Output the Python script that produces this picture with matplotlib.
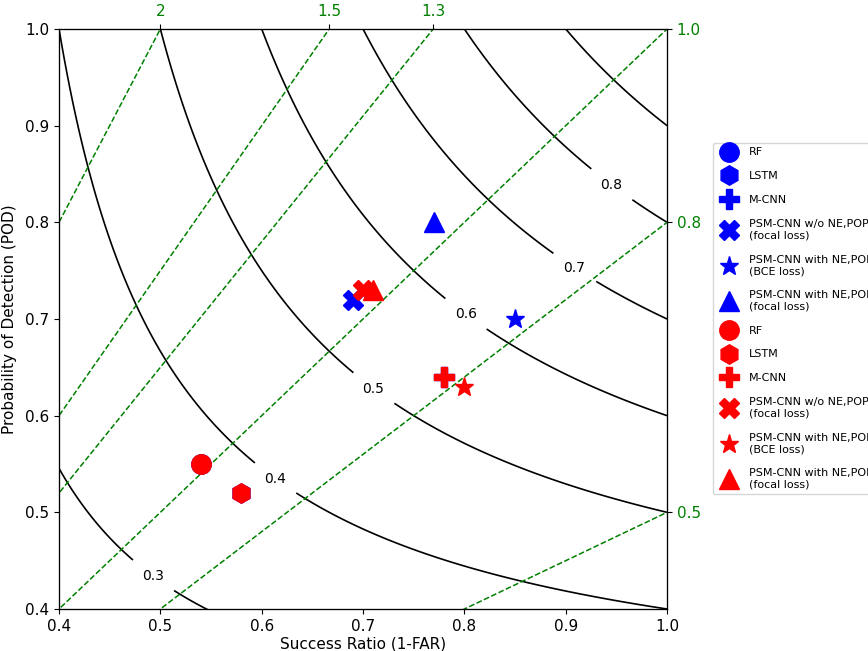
import numpy as np
import matplotlib
matplotlib.use("Agg")
import matplotlib.pyplot as plt

# model names, shared by both colour groups
models = ["RF", "LSTM", "M-CNN",
          "PSM-CNN w/o NE,POP\n(focal loss)",
          "PSM-CNN with NE,POP\n(BCE loss)",
          "PSM-CNN with NE,POP\n(focal loss)"]
markers = ["o", "h", "P", "X", "*", "^"]

# success ratio / POD for the blue group
blue_sr = [0.54, 0.58, 0.78, 0.69, 0.85, 0.77]
blue_pod = [0.55, 0.52, 0.64, 0.72, 0.70, 0.80]

# success ratio / POD for the red group
red_sr = [0.54, 0.58, 0.78, 0.70, 0.80, 0.71]
red_pod = [0.55, 0.52, 0.64, 0.73, 0.63, 0.73]

csi_levels = [0.1, 0.2, 0.3, 0.4, 0.5, 0.6, 0.7, 0.8, 0.9]
bias_values = [0.5, 0.8, 1.0, 1.3, 1.5, 2.0]
bias_labels = ["0.5", "0.8", "1.0", "1.3", "1.5", "2"]


def csi(sr, pod):
    return 1.0 / (1.0 / sr + 1.0 / pod - 1.0)


fig = plt.figure(figsize=(8.68, 6.51), dpi=100)
ax = fig.add_axes([0.068, 0.0645, 0.7005, 0.891])

# CSI contours
g = np.linspace(0.3, 1.0, 400)
SR, POD = np.meshgrid(g, g)
cs = ax.contour(SR, POD, csi(SR, POD), levels=csi_levels, colors="k", linewidths=1.2)
label_pos = [(0.494, 0.436), (0.614, 0.536), (0.711, 0.629),
             (0.802, 0.706), (0.91, 0.755), (0.946, 0.840)]
labels = ax.clabel(cs, inline=True, inline_spacing=11, fontsize=10,
                   fmt="%.1f", manual=label_pos)
for t in labels:
    t.set_rotation(0)

# frequency bias lines
sr_line = np.linspace(0.0, 1.0, 200)
for b in bias_values:
    ax.plot(sr_line, b * sr_line, "--", color="green", lw=1.1)

for name, m, x, y in zip(models, markers, blue_sr, blue_pod):
    ax.plot(x, y, m, color="blue", markersize=14, linestyle="none", label=name)
for name, m, x, y in zip(models, markers, red_sr, red_pod):
    ax.plot(x, y, m, color="red", markersize=14, linestyle="none", label=name)

ax.set_xlim(0.4, 1.0)
ax.set_ylim(0.4, 1.0)
ax.set_xticks(np.arange(0.4, 1.01, 0.1))
ax.set_yticks(np.arange(0.4, 1.01, 0.1))
ax.tick_params(labelsize=11)
ax.set_xlabel("Success Ratio (1-FAR)", fontsize=11, labelpad=2)
ax.set_ylabel("Probability of Detection (POD)", fontsize=11, labelpad=6)

# bias labels: top edge for bias > 1, right edge for bias <= 1
top = ax.twiny()
top.set_xlim(0.4, 1.0)
top.set_xticks([1.0 / b for b in bias_values if b > 1])
top.set_xticklabels([l for b, l in zip(bias_values, bias_labels) if b > 1],
                    color="green", fontsize=11)
right = ax.twinx()
right.set_ylim(0.4, 1.0)
right.set_yticks([b for b in bias_values if b <= 1])
right.set_yticklabels([l for b, l in zip(bias_values, bias_labels) if b <= 1],
                      color="green", fontsize=11)

ax.legend(loc="upper left", bbox_to_anchor=(1.0757, 0.8034), fontsize=8,
          labelspacing=1.25, borderaxespad=0)

fig.savefig("out.png", dpi=100)
